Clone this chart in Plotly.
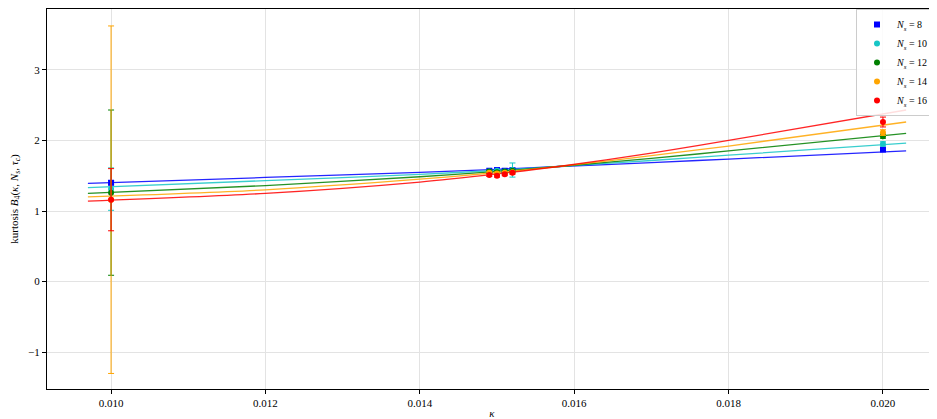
import plotly.graph_objects as go

# ---- data ----
labels = ["8", "10", "12", "14", "16"]
colors = ["blue", "#17c6c6", "green", "orange", "red"]
symbols = ["square", "circle", "circle", "circle", "circle"]

kappa_pts = [0.0100, 0.0149, 0.0150, 0.0151, 0.0152, 0.0200]
b4_N8  = [1.40, 1.57, 1.58, 1.57, 1.58, 1.87]
b4_N10 = [1.31, 1.56, 1.57, 1.56, 1.58, 1.95]
b4_N12 = [1.26, 1.56, 1.55, 1.56, 1.57, 2.06]
b4_N14 = [1.16, 1.54, 1.53, 1.54, 1.55, 2.11]
b4_N16 = [1.16, 1.51, 1.50, 1.52, 1.54, 2.26]
err_N8  = [0.03, 0.02, 0.02, 0.02, 0.02, 0.02]
err_N10 = [0.30, 0.02, 0.02, 0.02, 0.10, 0.03]
err_N12 = [1.17, 0.02, 0.02, 0.02, 0.02, 0.03]
err_N14 = [2.46, 0.02, 0.02, 0.02, 0.02, 0.04]
err_N16 = [0.44, 0.02, 0.02, 0.02, 0.02, 0.07]

kappa_fit = [0.0097, 0.0120, 0.0140, 0.0150, 0.0158, 0.0170, 0.0180, 0.0203]
fit_N8  = [1.39, 1.475, 1.546, 1.590, 1.630, 1.685, 1.735, 1.85]
fit_N10 = [1.33, 1.43, 1.52, 1.575, 1.630, 1.715, 1.79, 1.96]
fit_N12 = [1.25, 1.36, 1.485, 1.560, 1.630, 1.745, 1.85, 2.10]
fit_N14 = [1.20, 1.30, 1.45, 1.545, 1.630, 1.785, 1.92, 2.26]
fit_N16 = [1.14, 1.25, 1.41, 1.525, 1.630, 1.820, 2.00, 2.43]

b4 = [b4_N8, b4_N10, b4_N12, b4_N14, b4_N16]
errs = [err_N8, err_N10, err_N12, err_N14, err_N16]
fits = [fit_N8, fit_N10, fit_N12, fit_N14, fit_N16]

x_ticks = [0.010, 0.012, 0.014, 0.016, 0.018, 0.020]
y_ticks = [-1, 0, 1, 2, 3]

fig = go.Figure()

for i in range(5):
    fig.add_trace(go.Scatter(
        x=kappa_fit, y=fits[i], mode="lines",
        line=dict(color=colors[i], width=1.3, shape="spline", smoothing=0.8),
        opacity=0.85, showlegend=False, hoverinfo="skip"))

for i in range(5):
    fig.add_trace(go.Scatter(
        x=kappa_pts, y=b4[i], mode="markers",
        marker=dict(color=colors[i], symbol=symbols[i], size=6),
        error_y=dict(type="data", array=errs[i], color=colors[i],
                     thickness=1, width=3),
        name="<i>N<sub>s</sub></i> = " + labels[i]))

font = "Liberation Serif, DejaVu Serif, serif"
# the page adds an 8px body margin, so the figure is laid out 8px smaller
fig.update_layout(
    width=929, height=411,
    margin=dict(l=39, r=0, t=1, b=30, autoexpand=False),
    plot_bgcolor="white", paper_bgcolor="white",
    font=dict(family=font, size=11, color="black"),
    showlegend=True,
    legend=dict(x=0.909, y=1.0, xanchor="left", yanchor="top",
                bgcolor="rgba(255,255,255,0.85)", bordercolor="#cccccc",
                borderwidth=1, font=dict(size=10), itemwidth=30,
                tracegroupgap=0),
)
fig.update_xaxes(
    range=[0.00917, 0.0207], tickvals=x_ticks,
    ticktext=[f"{v:.3f}" for v in x_ticks],
    showgrid=True, gridcolor="#e3e3e3", gridwidth=1,
    showline=True, linecolor="black", linewidth=1, mirror=True,
    ticks="outside", ticklen=4, tickcolor="black", zeroline=False,
    automargin=False,
    title=dict(text="<i>κ</i>", standoff=2, font=dict(size=11)),
)
fig.update_yaxes(
    range=[-1.52, 3.86], tickvals=y_ticks,
    showgrid=True, gridcolor="#e3e3e3", gridwidth=1,
    showline=True, linecolor="black", linewidth=1, mirror=False,
    ticks="outside", ticklen=4, tickcolor="black", zeroline=False,
    automargin=False,
    title=dict(text="kurtosis <i>B</i><sub>4</sub>(<i>κ</i>, <i>N<sub>s</sub></i>, <i>τ<sub>c</sub></i>)",
               standoff=8, font=dict(size=11)),
)

fig.write_html("out.html")
